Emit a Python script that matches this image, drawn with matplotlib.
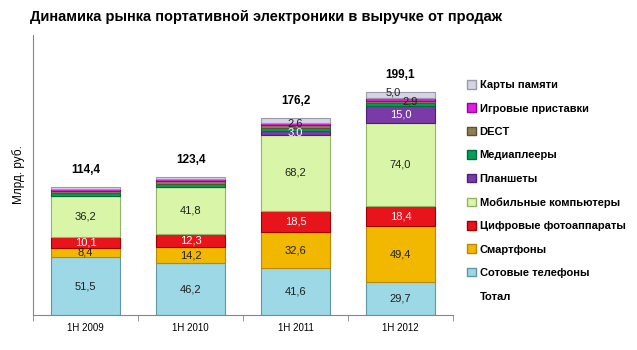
import matplotlib.pyplot as plt
import numpy as np
from matplotlib.patches import Patch

plt.rcParams['font.family'] = ['Liberation Sans', 'DejaVu Sans']

categories = ["1H 2009", "1H 2010", "1H 2011", "1H 2012"]
series_names = [
    "Сотовые телефоны", "Смартфоны", "Цифровые фотоаппараты",
    "Мобильные компьютеры", "Планшеты", "Медиаплееры", "DECT",
    "Игровые приставки", "Карты памяти",
]
phones = [51.5, 46.2, 41.6, 29.7]
smartphones = [8.4, 14.2, 32.6, 49.4]
cameras = [10.1, 12.3, 18.5, 18.4]
mobile_pc = [36.2, 41.8, 68.2, 74.0]
tablets = [0.0, 0.0, 3.0, 15.0]
media_players = [2.5, 2.7, 3.0, 2.5]
dect = [1.8, 2.0, 2.3, 2.2]
game_consoles = [1.6, 1.8, 2.6, 2.9]
memory_cards = [2.3, 2.4, 4.4, 5.0]
totals = [114.4, 123.4, 176.2, 199.1]

values = [phones, smartphones, cameras, mobile_pc, tablets,
          media_players, dect, game_consoles, memory_cards]
colors = ["#9dd8e6", "#f2b800", "#e8141c", "#d9f5a8", "#7a3aa8",
          "#00a05a", "#8f7f55", "#e01ee0", "#d4d4e2"]
edges = ["#5f97a6", "#b98a00", "#a00000", "#93b56a", "#4e1f74",
         "#006b3a", "#5c5030", "#9a009a", "#9a9aaa"]
label_colors = ["#202020", "#202020", "white", "#202020", "white",
                "white", "white", "#202020", "#202020"]
# which segment labels are printed (per series, per category)
show_label = [
    [1, 1, 1, 1], [1, 1, 1, 1], [1, 1, 1, 1], [1, 1, 1, 1], [0, 0, 1, 1],
    [0, 0, 0, 0], [0, 0, 0, 0], [0, 0, 1, 1], [0, 0, 0, 1],
]
# small nudges (points) for crowded labels in the last bar
nudge = {(7, 3): (7, -2), (8, 3): (-5, 2)}

fig = plt.figure(figsize=(6.37, 3.5), dpi=100)
ax = fig.add_axes([0.052, 0.1, 0.659, 0.8])

x = np.arange(len(categories))
bottom = np.zeros(len(categories))
for k, (vals, c, ec, lc, show) in enumerate(zip(values, colors, edges, label_colors, show_label)):
    vals = np.array(vals)
    ax.bar(x, vals, bottom=bottom, width=0.66, color=c, edgecolor=ec, linewidth=0.8)
    for i in range(len(x)):
        if show[i]:
            y = bottom[i] + vals[i] / 2
            if vals[i] < 4:
                y += 0.6
            dx, dy = nudge.get((k, i), (0, 0))
            ax.annotate(f"{vals[i]:.1f}".replace(".", ","), (x[i], y),
                        xytext=(dx, dy), textcoords="offset points",
                        ha="center", va="center", fontsize=8, color=lc)
    bottom += vals

for i in range(len(x)):
    ax.annotate(f"{totals[i]:.1f}".replace(".", ","), (x[i], totals[i]),
                xytext=(0, 12), textcoords="offset points",
                ha="center", va="center", fontsize=8.5, fontweight="bold")

ax.set_xlim(-0.5, len(categories) - 0.5)
ax.set_ylim(0, 250)
ax.set_xticks(x)
ax.set_xticklabels(categories, fontsize=7)
ax.set_xticks(np.arange(len(categories) + 1) - 0.5, minor=True)
ax.tick_params(axis="x", which="major", length=0, pad=6)
ax.tick_params(axis="x", which="minor", length=4, color="#868686")
ax.set_yticks([])
for s in ["top", "right"]:
    ax.spines[s].set_visible(False)
for s in ["left", "bottom"]:
    ax.spines[s].set_color("#868686")
ax.set_ylabel("Млрд. руб.", fontsize=8.5, labelpad=6)

fig.text(0.047, 0.95, "Динамика рынка портативной электроники в выручке от продаж",
         fontsize=10.5, fontweight="bold", ha="left", va="center")

handles = [Patch(facecolor=c, edgecolor=ec) for c, ec in zip(colors, edges)]
labels = list(series_names)
handles = handles[::-1] + [Patch(facecolor="none", edgecolor="none")]
labels = labels[::-1] + ["Тотал"]
leg = fig.legend(handles, labels, loc="upper left", bbox_to_anchor=(0.718, 0.8),
                 frameon=False, fontsize=8, labelspacing=1.2,
                 handlelength=0.8, handleheight=0.8, handletextpad=0.3)
for t in leg.get_texts():
    t.set_fontweight("bold")

fig.savefig("out.png", dpi=100)
